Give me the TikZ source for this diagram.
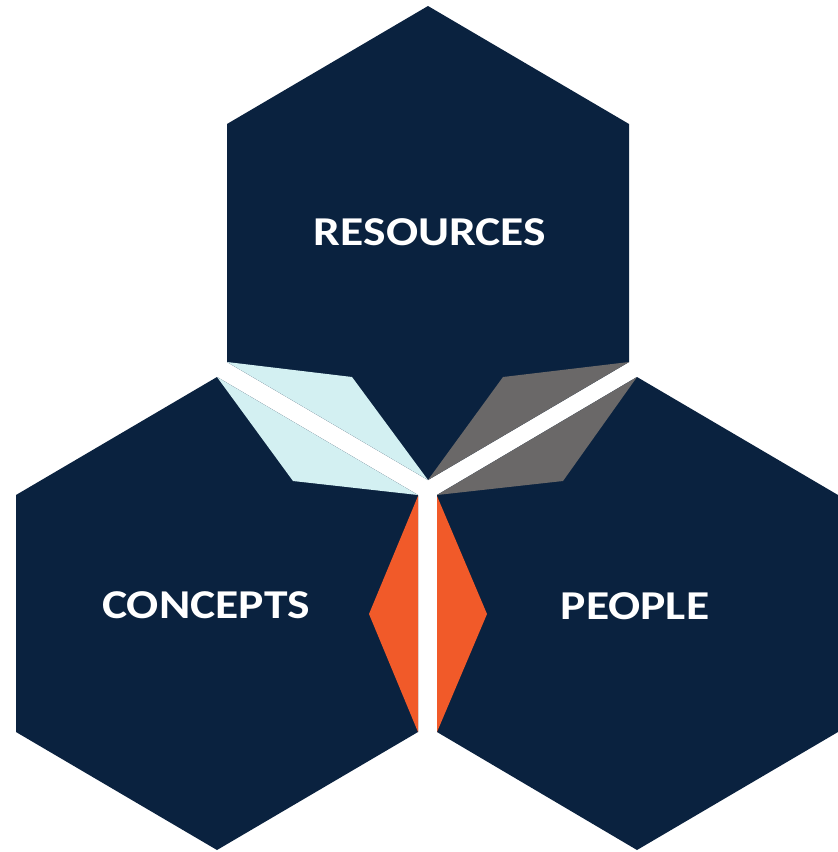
\documentclass[tikz,border=0pt]{standalone}
\usepackage{fontspec}
\setmainfont{Carlito}
\definecolor{navy}{HTML}{0A223F}
\definecolor{lightblue}{HTML}{D3F0F2}
\definecolor{midgray}{HTML}{6A6868}
\definecolor{orangeacc}{HTML}{F15A29}
\newcommand{\widelbl}[1]{\scalebox{1.16}[1]{#1}}
\begin{document}
\begin{tikzpicture}[x=1pt,y=-1pt,
  hexfill/.style={fill=navy},
  lbl/.style={text=white,font=\bfseries\fontsize{41}{44}\selectfont,inner sep=0pt,anchor=center}]
\useasboundingbox (0,0) rectangle (838,852);
\fill[white] (0,0) rectangle (838,852);
% hexagons
\fill[hexfill] (428,6) -- (629,124) -- (629,362) -- (428,480) -- (227,362) -- (227,124) -- cycle;
\fill[hexfill] (217,377) -- (418,495) -- (418,732) -- (217,850) -- (16,732) -- (16,495) -- cycle;
\fill[hexfill] (637,377) -- (838,495) -- (838,732) -- (637,850) -- (437,732) -- (437,495) -- cycle;
% light blue
\fill[lightblue] (227,362) -- (352,377) -- (428,480) -- cycle;
\fill[lightblue] (217,377) -- (293,481) -- (418,495) -- cycle;
% gray
\fill[midgray] (629,362) -- (503,377) -- (428,480) -- cycle;
\fill[midgray] (637,377) -- (563,481) -- (437,495) -- cycle;
% orange
\fill[orangeacc] (418,496) -- (369,614) -- (418,732) -- cycle;
\fill[orangeacc] (437,496) -- (487,614) -- (437,732) -- cycle;
% labels
\node[lbl] (res) at (430,232) {\widelbl{RESOURCES}};
\node[lbl] (con) at (206,605) {\widelbl{CONCEPTS}};
\node[lbl] (peo) at (635,606) {\widelbl{PEOPLE}};
\end{tikzpicture}
\end{document}
